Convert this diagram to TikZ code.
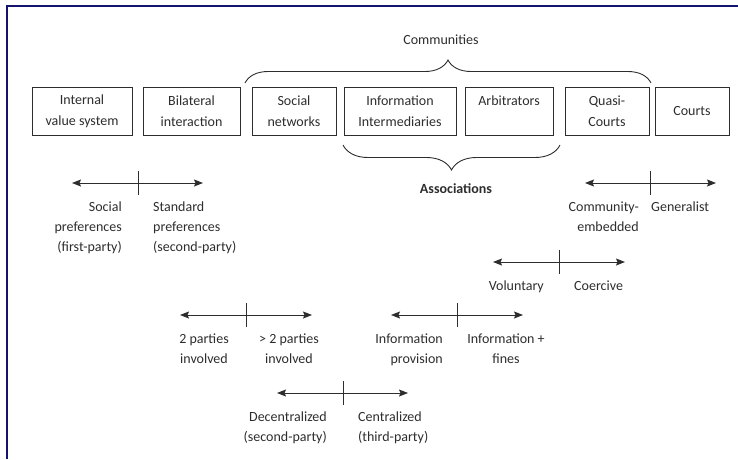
\documentclass[tikz,border=0pt]{standalone}
\usepackage{fontspec}
\setmainfont{Carlito}
\usetikzlibrary{arrows.meta,decorations.pathreplacing}

\definecolor{rahmenblau}{RGB}{20,20,110}
\definecolor{schrift}{RGB}{45,45,45}

\tikzset{
  kasten/.style={draw=schrift,line width=0.9pt,minimum height=48pt,inner sep=0pt,
    align=center,text=schrift,font=\fontsize{14}{21}\selectfont},
  beschriftung/.style={inner sep=0pt,text=schrift,font=\fontsize{14}{20}\selectfont},
  pfeil/.style={{Stealth[length=9pt,width=7pt,inset=1.5pt]}-{Stealth[length=9pt,width=7pt,inset=1.5pt]},
    line width=1pt,draw=schrift},
  strich/.style={line width=1pt,draw=schrift},
  klammer/.style={decorate,decoration={brace,amplitude=#1},line width=0.9pt,draw=schrift},
  rahmen/.style={line width=1.4pt,draw=rahmenblau}
}

\begin{document}
\begin{tikzpicture}[x=1pt,y=-1pt]
\useasboundingbox (0,0) rectangle (738,459);

% Rahmen
\draw[rahmen] (7,459) -- (7,6) -- (738,6);

% Kaesten
\node[kasten,minimum width=100pt] (internal) at (82,111) {Internal\\value system};
\node[kasten,minimum width=97pt] (bilateral) at (191.5,111) {Bilateral\\interaction};
\node[kasten,minimum width=84pt] (socialnetworks) at (294,111) {Social\\networks};
\node[kasten,minimum width=112pt] (intermediaries) at (400,111) {Information\\Intermediaries};
\node[kasten,minimum width=88pt] (arbitrators) at (509,111) {Arbitrators\\\mbox{}};
\node[kasten,minimum width=84pt] (quasicourts) at (607,111) {Quasi-\\Courts};
\node[kasten,minimum width=74pt] (courts) at (692,111) {Courts};

% Klammern
\coordinate (communitiesstart) at (245,83);
\coordinate (communitiesend) at (651,83);
\coordinate (associationsstart) at (560,145);
\coordinate (associationsend) at (343,145);
\draw[klammer=23pt] (communitiesstart) -- (communitiesend);
\draw[klammer=25pt] (associationsstart) -- (associationsend);
\node[beschriftung] (communities) at (441,40) {Communities};
\node[beschriftung,font=\fontsize{14}{20}\selectfont\bfseries] (associations) at (456,189) {Associations};

% Koordinaten
\coordinate (prefsleft) at (72,183);
\coordinate (prefsright) at (203,183);
\coordinate (prefstop) at (138,171);
\coordinate (prefsbottom) at (138,195);
\coordinate (embeddingleft) at (585,183);
\coordinate (embeddingright) at (716,183);
\coordinate (embeddingtop) at (650,171);
\coordinate (embeddingbottom) at (650,195);
\coordinate (coercionleft) at (493,262);
\coordinate (coercionright) at (625,262);
\coordinate (coerciontop) at (559,250);
\coordinate (coercionbottom) at (559,274);
\coordinate (partiesleft) at (180,315);
\coordinate (partiesright) at (312,315);
\coordinate (partiestop) at (246,303);
\coordinate (partiesbottom) at (246,327);
\coordinate (finesleft) at (391,315);
\coordinate (finesright) at (523,315);
\coordinate (finestop) at (457,303);
\coordinate (finesbottom) at (457,327);
\coordinate (centralleft) at (277,393);
\coordinate (centralright) at (408,393);
\coordinate (centraltop) at (343,381);
\coordinate (centralbottom) at (343,405);

% Achsen
\draw[pfeil] (prefsleft) -- (prefsright);
\draw[strich] (prefstop) -- (prefsbottom);
\draw[pfeil] (embeddingleft) -- (embeddingright);
\draw[strich] (embeddingtop) -- (embeddingbottom);
\draw[pfeil] (coercionleft) -- (coercionright);
\draw[strich] (coerciontop) -- (coercionbottom);
\draw[pfeil] (partiesleft) -- (partiesright);
\draw[strich] (partiestop) -- (partiesbottom);
\draw[pfeil] (finesleft) -- (finesright);
\draw[strich] (finestop) -- (finesbottom);
\draw[pfeil] (centralleft) -- (centralright);
\draw[strich] (centraltop) -- (centralbottom);

% Beschriftungen
\node[beschriftung,anchor=north east,align=right] (socialprefs) at (122,202) {Social\\preferences\\(first-party)};
\node[beschriftung,anchor=north west,align=left] (standardprefs) at (153,202) {Standard\\preferences\\(second-party)};
\node[beschriftung,anchor=north east,align=right] (embedded) at (639,202) {Community-\\embedded};
\node[beschriftung,anchor=north west,align=left] (generalist) at (651,202) {Generalist};
\node[beschriftung,anchor=north east] (voluntary) at (544,281) {Voluntary};
\node[beschriftung,anchor=north west] (coercive) at (574,281) {Coercive};
\node[beschriftung,anchor=north,align=center] (twoparties) at (204,334) {2 parties\\involved};
\node[beschriftung,anchor=north,align=center] (moreparties) at (289,334) {> 2 parties\\involved};
\node[beschriftung,anchor=north east,align=right] (provision) at (443,334) {Information\\provision};
\node[beschriftung,anchor=north,align=center] (infofines) at (506,334) {Information +\\fines};
\node[beschriftung,anchor=north east,align=right] (decentralized) at (327,412) {Decentralized\\(second-party)};
\node[beschriftung,anchor=north west,align=left] (centralized) at (358,412) {Centralized\\(third-party)};
\end{tikzpicture}
\end{document}
